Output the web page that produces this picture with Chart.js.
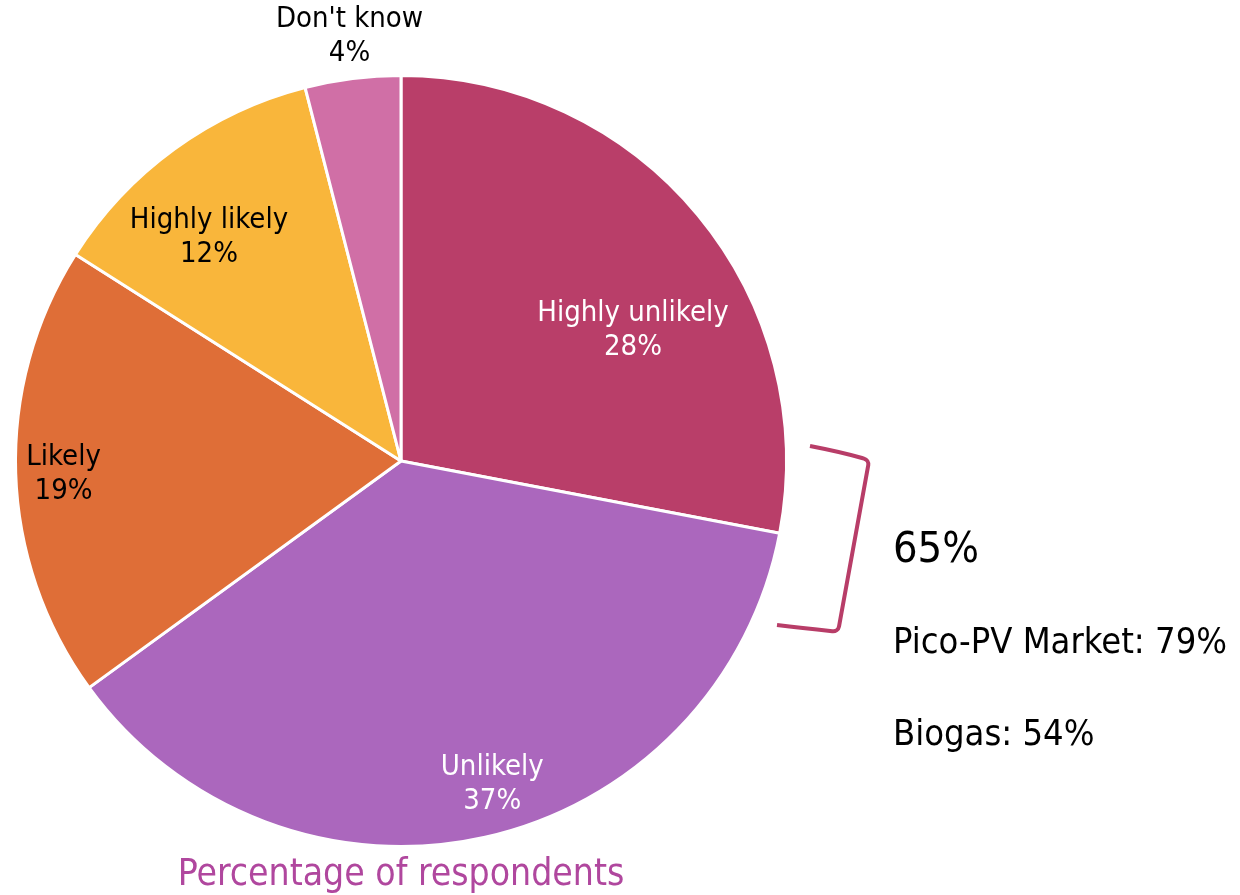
<!DOCTYPE html>
<html>
<head>
<meta charset="utf-8">
<script src="https://cdn.jsdelivr.net/npm/chart.js@4.4.1/dist/chart.umd.min.js"></script>
<style>
  html, body { margin: 0; padding: 0; background: #fff; }
  #wrap { width: 1240px; height: 895px; position: relative; }
</style>
</head>
<body>
<div id="wrap"><canvas id="pie"></canvas></div>
<script>
// Likelihood answers, clockwise from 12 o'clock
const categories = ['Highly unlikely', 'Unlikely', 'Likely', 'Highly likely', "Don't know"];
const shares = [28, 37, 19, 12, 4];
const sliceColors = ['#B93E69', '#AB67BD', '#DF6E37', '#F9B63B', '#D06FA6'];
const labelColors = ['#ffffff', '#ffffff', '#000000', '#000000', '#000000'];

// where each label sits: fraction of radius, and nudge (deg) off the slice middle
const labelRadius = [0.692, 0.869, 0.876, 0.767, 1.112];
const labelNudge = [10, -3.2, -0.4, -4.5, 0.3];

const unlikelyTotal = '65%';
const sideNotes = ['Pico-PV Market: 79%', 'Biogas: 54%'];
const caption = 'Percentage of respondents';

const FONT = "'DejaVu Sans Condensed', 'DejaVu Sans', sans-serif";

const sliceLabels = {
  id: 'sliceLabels',
  afterDatasetsDraw(chart) {
    const ctx = chart.ctx;
    const arcs = chart.getDatasetMeta(0).data;
    ctx.save();
    ctx.font = '29px ' + FONT;
    ctx.textAlign = 'center';
    ctx.textBaseline = 'middle';
    arcs.forEach((arc, i) => {
      const p = arc.getProps(['x', 'y', 'startAngle', 'endAngle', 'outerRadius'], true);
      const mid = (p.startAngle + p.endAngle) / 2 + labelNudge[i] * Math.PI / 180;
      const r = p.outerRadius * labelRadius[i];
      const x = p.x + r * Math.cos(mid);
      const y = p.y + r * Math.sin(mid);
      ctx.fillStyle = labelColors[i];
      ctx.fillText(categories[i], x, y - 16);
      ctx.fillText(shares[i] + '%', x, y + 18);
    });
    ctx.restore();
  }
};

// bracket round the "unlikely" answers, plus the notes beside it
const sideText = {
  id: 'sideText',
  afterDraw(chart) {
    const ctx = chart.ctx;
    const arc = chart.getDatasetMeta(0).data[0];
    const cx = arc.x, cy = arc.y;
    ctx.save();
    ctx.strokeStyle = '#B83D68';
    ctx.lineWidth = 4;
    ctx.lineJoin = 'round';
    ctx.beginPath();
    ctx.moveTo(cx + 409, cy - 15);
    ctx.quadraticCurveTo(cx + 440, cy - 9, cx + 461, cy - 3);
    ctx.arcTo(cx + 468, cy - 1, cx + 467, cy + 6, 6);
    ctx.arcTo(cx + 437, cy + 171, cx + 430, cy + 170, 6);
    ctx.quadraticCurveTo(cx + 400, cy + 167, cx + 376, cy + 164);
    ctx.stroke();

    ctx.fillStyle = '#000';
    ctx.textAlign = 'left';
    ctx.textBaseline = 'alphabetic';
    ctx.font = '43px ' + FONT;
    ctx.fillText(unlikelyTotal, cx + 492, cy + 101);
    ctx.font = '36px ' + FONT;
    ctx.fillText(sideNotes[0], cx + 492, cy + 192);
    ctx.fillText(sideNotes[1], cx + 492, cy + 284);

    ctx.fillStyle = '#B0479E';
    ctx.textAlign = 'center';
    ctx.font = '37px ' + FONT;
    ctx.fillText(caption, cx, cy + 424);
    ctx.restore();
  }
};

new Chart(document.getElementById('pie').getContext('2d'), {
  type: 'pie',
  data: {
    labels: categories,
    datasets: [{
      data: shares,
      backgroundColor: sliceColors,
      borderColor: '#ffffff',
      borderWidth: 3
    }]
  },
  options: {
    responsive: true,
    maintainAspectRatio: false,
    animation: false,
    layout: { padding: { left: 14, right: 452, top: 74, bottom: 47 } },
    plugins: {
      legend: { display: false },
      tooltip: { enabled: false }
    }
  },
  plugins: [sliceLabels, sideText]
});
</script>
</body>
</html>
